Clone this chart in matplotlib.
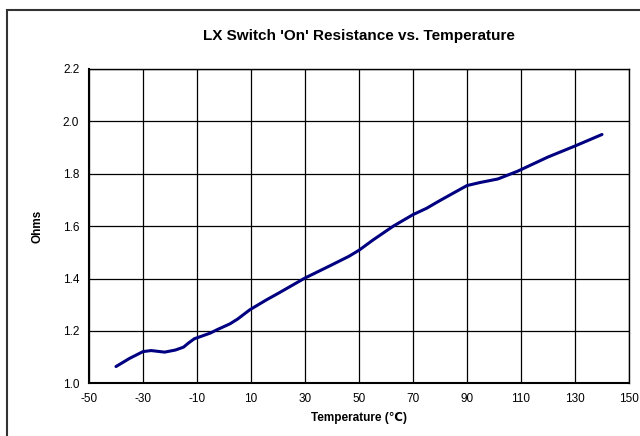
import matplotlib
matplotlib.use("Agg")
import matplotlib.pyplot as plt
from matplotlib.patches import Rectangle

plt.rcParams['font.family'] = ['Liberation Sans', 'DejaVu Sans']
plt.rcParams['axes.unicode_minus'] = False

temperature = [-40, -35, -30, -27, -22, -18, -15, -13, -11, -8, -5, -2.7, 2.2, 5, 9.6, 15.8, 20,
               30, 39.3, 46.3, 50, 55.3, 62.7, 70, 75, 79.5, 85.6, 90, 95, 101.4, 108.8,
               120, 130, 140]
ohms = [1.064, 1.095, 1.121, 1.125, 1.119, 1.127, 1.138, 1.155, 1.170, 1.181, 1.192, 1.204, 1.227,
        1.245, 1.281, 1.319, 1.343, 1.402, 1.449, 1.485, 1.508, 1.548, 1.600, 1.644, 1.668,
        1.695, 1.730, 1.755, 1.767, 1.780, 1.810, 1.864, 1.906, 1.950]

xticks = [-50, -30, -10, 10, 30, 50, 70, 90, 110, 130, 150]
yticks = [1.0, 1.2, 1.4, 1.6, 1.8, 2.0, 2.2]

fig = plt.figure(figsize=(6.4, 4.36), dpi=100)
ax = fig.add_axes([89/640, 1 - 383.3/436, 540/640, (383.3 - 69)/436])

ax.plot(temperature, ohms, color='#000080', linewidth=2.2, solid_capstyle='round',
        solid_joinstyle='round')
ax.set_xlim(-50, 150)
ax.set_ylim(1.0, 2.2)
ax.set_xticks(xticks)
ax.set_yticks(yticks)
ax.set_yticklabels([f"{v:.1f}" for v in yticks])
ax.grid(True, color='black', linewidth=0.9)
ax.tick_params(length=0, labelsize=8.5, pad=7)
for s in ax.spines.values():
    s.set_color('black')
    s.set_linewidth(1.0)
ax.spines['left'].set_linewidth(1.5)
ax.spines['bottom'].set_linewidth(1.5)

ax.set_xlabel('Temperature (℃)', fontsize=8.5, fontweight='bold', labelpad=5)
ax.set_ylabel('Ohms', fontsize=8.5, fontweight='bold', labelpad=14)
fig.text(359/640, 1 - 36/436, "LX Switch 'On' Resistance vs. Temperature",
         ha='center', va='center', fontsize=11, fontweight='bold')

fig.patches.append(Rectangle((7/640, -0.1), 1.0, 1 - 10/436 + 0.1, transform=fig.transFigure,
                             fill=False, edgecolor='#333333', linewidth=1.5, clip_on=False))

fig.savefig('out.png', dpi=100)
